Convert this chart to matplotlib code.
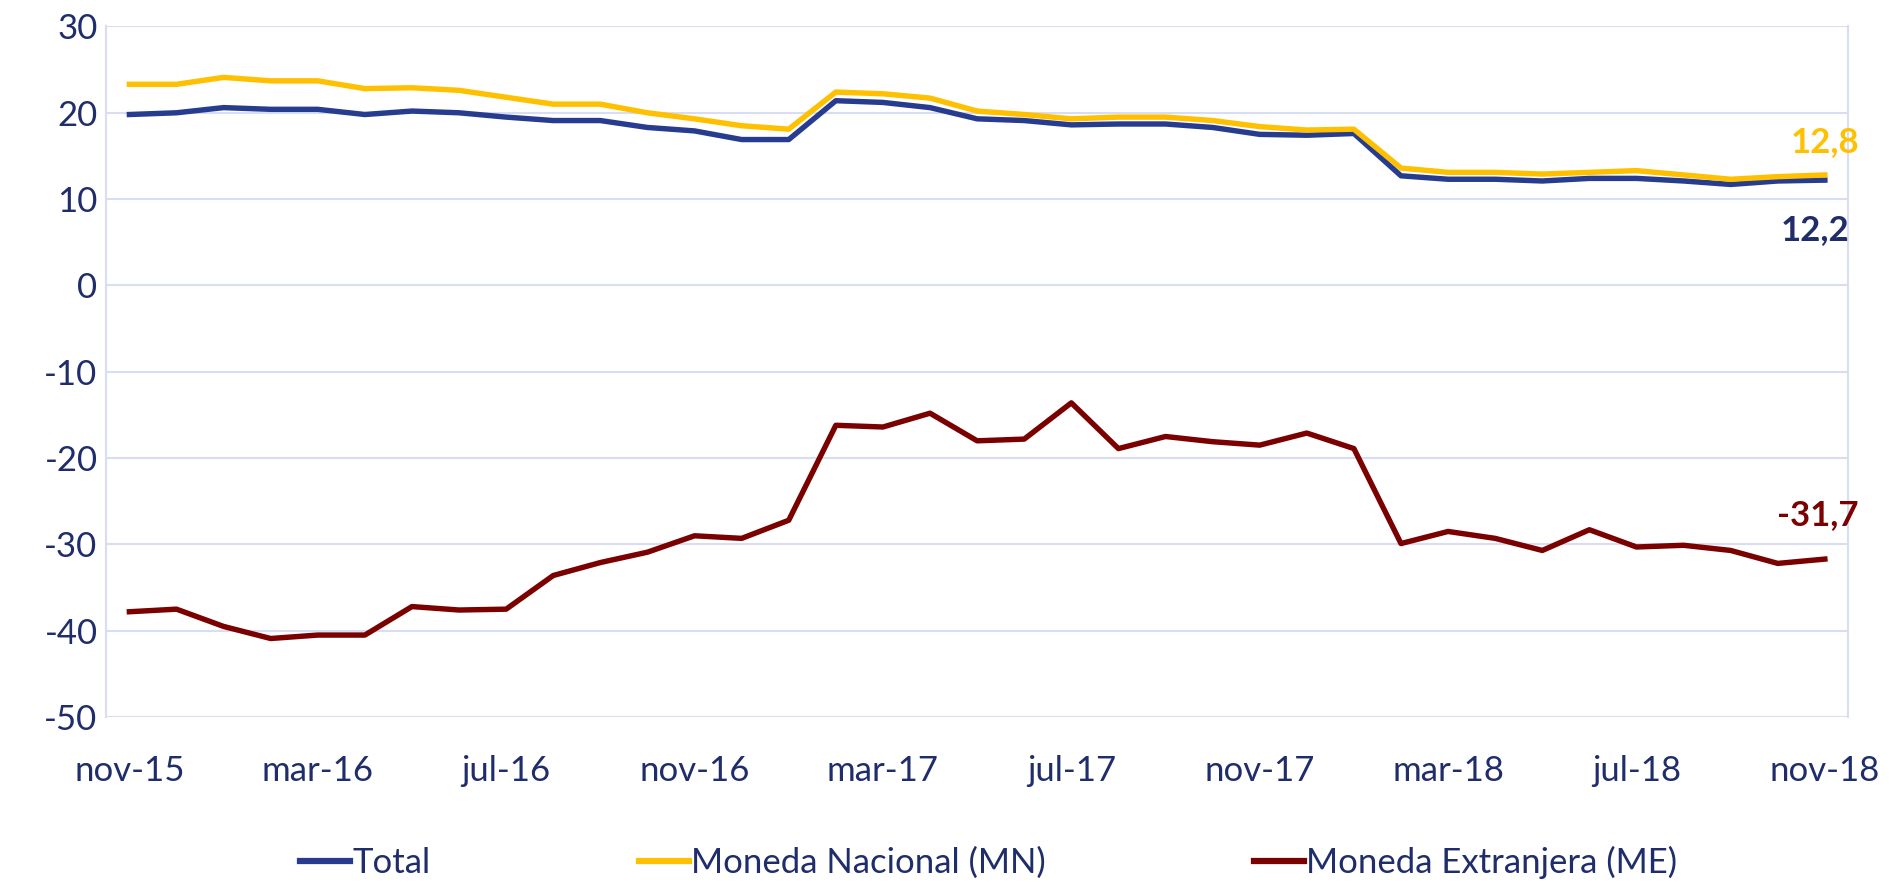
import numpy as np
import matplotlib
matplotlib.use("Agg")
import matplotlib.pyplot as plt

# meses nov-15 .. nov-18
meses = ["nov-15", "dic-15", "ene-16", "feb-16", "mar-16", "abr-16", "may-16", "jun-16",
         "jul-16", "ago-16", "sep-16", "oct-16", "nov-16", "dic-16", "ene-17", "feb-17",
         "mar-17", "abr-17", "may-17", "jun-17", "jul-17", "ago-17", "sep-17", "oct-17",
         "nov-17", "dic-17", "ene-18", "feb-18", "mar-18", "abr-18", "may-18", "jun-18",
         "jul-18", "ago-18", "sep-18", "oct-18", "nov-18"]
tick_labels = ["nov-15", "mar-16", "jul-16", "nov-16", "mar-17", "jul-17",
               "nov-17", "mar-18", "jul-18", "nov-18"]

total = [19.8, 20.0, 20.6, 20.4, 20.4, 19.8, 20.2, 20.0, 19.5, 19.1, 19.1, 18.3, 17.9,
         16.9, 16.9, 21.4, 21.2, 20.6, 19.3, 19.1, 18.6, 18.7, 18.7, 18.3, 17.5, 17.4,
         17.6, 12.7, 12.3, 12.3, 12.1, 12.4, 12.4, 12.1, 11.7, 12.1, 12.2]
mn = [23.3, 23.3, 24.1, 23.7, 23.7, 22.8, 22.9, 22.6, 21.8, 21.0, 21.0, 20.0, 19.3,
      18.5, 18.1, 22.4, 22.2, 21.7, 20.2, 19.8, 19.3, 19.5, 19.5, 19.1, 18.4, 18.0,
      18.1, 13.6, 13.1, 13.1, 12.9, 13.1, 13.3, 12.8, 12.3, 12.6, 12.8]
me = [-37.8, -37.5, -39.5, -40.9, -40.5, -40.5, -37.2, -37.6, -37.5, -33.6, -32.1,
      -30.9, -29.0, -29.3, -27.2, -16.2, -16.4, -14.8, -18.0, -17.8, -13.6, -18.9,
      -17.5, -18.1, -18.5, -17.1, -18.9, -29.9, -28.5, -29.3, -30.7, -28.3, -30.3,
      -30.1, -30.7, -32.2, -31.7]

c_total = "#283C8F"
c_mn = "#FFC000"
c_me = "#7B0000"
c_text = "#1F2D6B"
c_grid = "#D9DDF3"

plt.rcParams['font.family'] = ['Lato', 'DejaVu Sans']
plt.rcParams['axes.unicode_minus'] = False

fig = plt.figure(figsize=(18.9, 8.82), dpi=100)
ax = fig.add_axes([0.056, 0.187, 0.922, 0.783])

x = np.arange(len(meses))
ax.plot(x, total, color=c_total, lw=3.9, label="Total")
ax.plot(x, mn, color=c_mn, lw=3.9, label="Moneda Nacional (MN)")
ax.plot(x, me, color=c_me, lw=3.9, label="Moneda Extranjera (ME)")

ax.set_xlim(-0.5, len(meses) - 0.5)
ax.set_ylim(-50, 30)
ax.set_yticks(np.arange(-50, 31, 10))
ax.set_xticks(x[::4])
ax.set_xticklabels(tick_labels)
ax.tick_params(axis="both", length=0, labelsize=25, colors=c_text)
ax.tick_params(axis="x", pad=27)
ax.tick_params(axis="y", pad=6)
ax.grid(axis="y", color=c_grid, lw=1.5)
ax.set_axisbelow(True)
for s in ax.spines.values():
    s.set_color(c_grid)
    s.set_linewidth(1.5)
ax.spines["top"].set_visible(False)
ax.spines["bottom"].set_visible(False)

# etiquetas del ultimo dato
last = len(meses) - 1
ax.text(last, mn[-1] + 3.8, f"{mn[-1]:.1f}".replace(".", ","), color=c_mn,
        fontsize=25, fontweight="bold", ha="center", va="center")
ax.text(last - 0.2, total[-1] - 5.8, f"{total[-1]:.1f}".replace(".", ","), color=c_text,
        fontsize=25, fontweight="bold", ha="center", va="center")
ax.text(last - 0.15, me[-1] + 5.1, f"{me[-1]:.1f}".replace(".", ","), color=c_me,
        fontsize=25, fontweight="bold", ha="center", va="center")

leg = fig.legend(loc="center", bbox_to_anchor=(0.523, 0.022), ncol=3, frameon=False,
                 fontsize=25, handlelength=1.45, handletextpad=0.05, columnspacing=6.0)
for t in leg.get_texts():
    t.set_color(c_text)
for h in leg.get_lines():
    h.set_linewidth(4.5)

fig.savefig("out.png", dpi=100)
